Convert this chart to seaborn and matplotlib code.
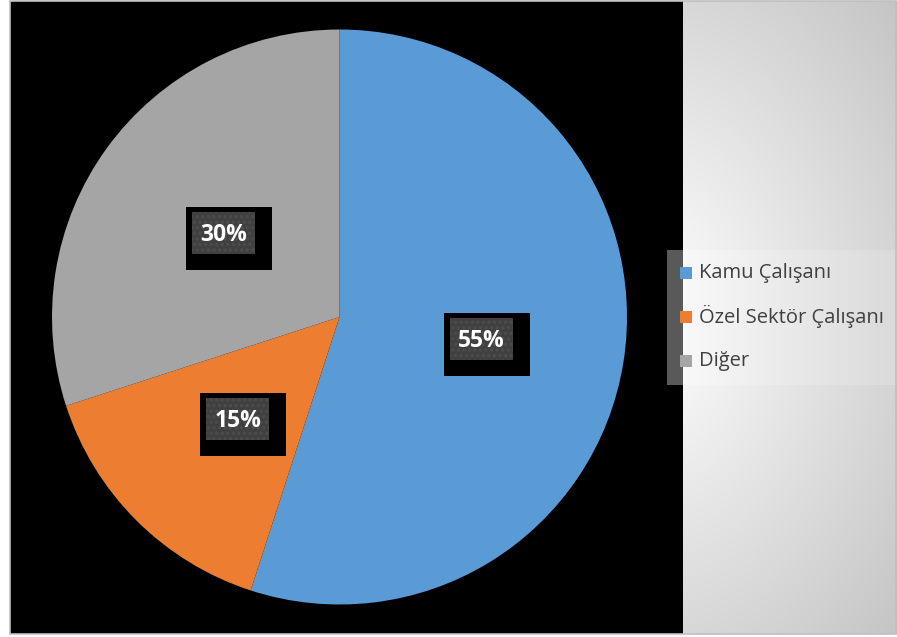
import numpy as np
import matplotlib
matplotlib.use("Agg")
import matplotlib.pyplot as plt
from matplotlib.patches import Rectangle
import seaborn as sns

categories = ["Kamu Çalışanı", "Özel Sektör Çalışanı", "Diğer"]
values = [55, 15, 30]
colors = ["#5b9bd5", "#ed7d31", "#a5a5a5"]

sns.set_theme(style="white")
plt.rcParams['font.family'] = ['Open Sans', 'DejaVu Sans']
plt.rcParams['hatch.linewidth'] = 1.6

W, H = 897, 637
fig = plt.figure(figsize=(W / 100, H / 100), dpi=100)
ax = fig.add_axes([0, 0, 1, 1])
ax.set_axis_off()

def Y(y):
    return H - y

# right side radial gradient
gx = np.linspace(683, 897, 220)
gy = np.linspace(1, 634, 640)
GX, GY = np.meshgrid(gx, gy)
d = np.sqrt((GX - 640) ** 2 + ((GY - 318) * 0.75) ** 2)
t = np.clip((d - 60) / 330, 0, 1)
shade = 0.965 - 0.22 * t
img = np.dstack([shade, shade, shade])
ax.imshow(img, extent=(683, 897, Y(634), Y(1)), origin='upper', zorder=0, aspect='auto')

# black plot area
ax.add_patch(Rectangle((10, Y(634)), 673, 633, facecolor='black', edgecolor='none', zorder=1))
# outer border
ax.add_patch(Rectangle((10, Y(634)), 886, 633, facecolor='none', edgecolor='#bfbfbf', lw=1.2, zorder=6))

# pie
cx, cy, r = 339.5, Y(317), 287.5
wedges, texts, autotexts = ax.pie(values, colors=colors, startangle=90, counterclock=False,
                                  center=(cx, cy), radius=r, autopct='%1.0f%%', pctdistance=0.5,
                                  wedgeprops=dict(linewidth=0, zorder=2),
                                  textprops=dict(color='white', fontsize=16.5, fontweight='bold'))
for w in wedges:
    w.set_zorder(2)
for at in autotexts:
    x, y = at.get_position()
    at.set_zorder(5)
    at.set_ha('center')
    at.set_va('center')
    at.set_position((x, y - 2))
    # shadow box
    ax.add_patch(Rectangle((x - 31.5 - 6, y - 21 - 16), 86, 63, facecolor='black', edgecolor='none', zorder=3))
    ax.add_patch(Rectangle((x - 31.5, y - 21), 63, 42, facecolor='#404040', edgecolor='#4d4d4d',
                           lw=0, hatch='...', zorder=4))

# legend background
lx = np.linspace(0, 1, 200)
lshade = 0.975 - 0.12 * lx
limg = np.dstack([np.tile(lshade, (10, 1))] * 3)
ax.imshow(limg, extent=(683, 897, Y(385), Y(250)), origin='upper', zorder=3, aspect='auto')
ax.add_patch(Rectangle((667, Y(385)), 16, 135, facecolor='#595959', edgecolor='none', zorder=3))

leg_y = [273, 316.5, 361]
for cat, col, yy in zip(categories, colors, leg_y):
    ax.add_patch(Rectangle((680, Y(yy) - 6), 12, 12, facecolor=col, edgecolor='none', zorder=5))
    ax.text(699, Y(yy), cat, fontsize=14.5, color='#404040', ha='left', va='center', zorder=5)

ax.set_xlim(0, W)
ax.set_ylim(0, H)
ax.set_aspect('auto')
fig.savefig("out.png", dpi=100, facecolor='white')
